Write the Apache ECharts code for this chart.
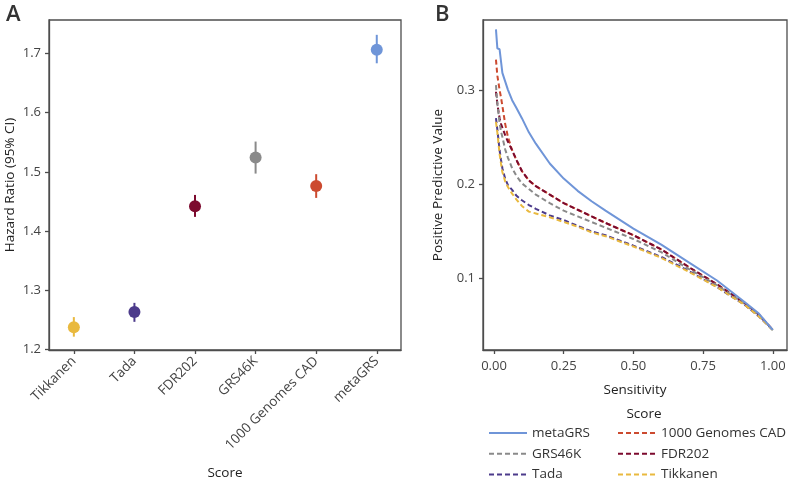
<!DOCTYPE html>
<html><head><meta charset="utf-8">
<script src="https://cdn.jsdelivr.net/npm/echarts@6/dist/echarts.min.js"></script>
<style>html,body{margin:0;padding:0;background:#fff}#c{width:790px;height:482px}</style>
</head><body><div id="c"></div>
<script>
// Panel A data
const scores = ['Tikkanen','Tada','FDR202','GRS46K','1000 Genomes CAD','metaGRS'];
const hrEstimate = [1.238, 1.2635, 1.442, 1.524, 1.476, 1.706];
const hrLower    = [1.222, 1.247, 1.424, 1.497, 1.456, 1.683];
const hrUpper    = [1.255, 1.279, 1.461, 1.551, 1.496, 1.731];
const hrTicks = [1.2, 1.3, 1.4, 1.5, 1.6, 1.7];

// Panel B data
const sensitivity = [0.007,0.012,0.02,0.025,0.03,0.04,0.05,0.065,0.08,0.1,0.125,0.15,0.2,0.25,0.3,0.35,0.4,0.5,0.6,0.7,0.8,0.9,0.95,1.0];
const ppvMetaGRS = [0.364,0.344,0.343,0.341,0.318,0.309,0.300,0.289,0.281,0.270,0.255,0.243,0.222,0.206,0.193,0.182,0.172,0.153,0.136,0.117,0.098,0.075,0.063,0.0456];
const ppv1000G   = [0.332,0.315,0.300,0.292,0.283,0.264,0.250,0.236,0.226,0.214,0.204,0.198,0.189,0.180,0.173,0.166,0.159,0.146,0.131,0.112,0.094,0.074,0.062,0.0456];
const ppvFDR202  = [0.298,0.285,0.270,0.264,0.260,0.252,0.245,0.236,0.226,0.214,0.204,0.198,0.189,0.180,0.173,0.166,0.159,0.146,0.131,0.112,0.094,0.074,0.062,0.0456];
const ppvGRS46K  = [0.305,0.285,0.265,0.256,0.250,0.237,0.228,0.217,0.209,0.201,0.195,0.189,0.180,0.172,0.166,0.160,0.154,0.142,0.128,0.110,0.093,0.073,0.061,0.0456];
const ppvTada    = [0.270,0.258,0.236,0.226,0.217,0.206,0.199,0.194,0.188,0.183,0.178,0.174,0.167,0.162,0.156,0.150,0.146,0.135,0.123,0.108,0.091,0.072,0.060,0.0456];
const ppvTikkanen= [0.266,0.255,0.232,0.222,0.213,0.203,0.197,0.190,0.184,0.177,0.171,0.169,0.165,0.160,0.155,0.149,0.145,0.134,0.122,0.107,0.091,0.072,0.060,0.0456];
const sensTicks = [0, 0.25, 0.5, 0.75, 1];
const ppvTicks = [0.1, 0.2, 0.3];

const colorMap = {
  'Tikkanen':'#e9b93f','Tada':'#4c3b8b','FDR202':'#7c0a2e',
  'GRS46K':'#8a8a8a','1000 Genomes CAD':'#cc4a2f','metaGRS':'#6f95d8'
};
const FONT = '"Open Sans", "DejaVu Sans", sans-serif';
const AX = '#4d4d4d';

function curve(name, vals, dashed){
  return {
    name, type:'line', xAxisIndex:1, yAxisIndex:1, symbol:'none', showSymbol:false,
    data: sensitivity.map((s,i)=>[s, vals[i]]),
    lineStyle:{color:colorMap[name], width:2, type: dashed ? [5,3] : 'solid'},
    itemStyle:{color:colorMap[name]}, animation:false
  };
}

const chart = echarts.init(document.getElementById('c'), null, {renderer:'canvas'});
function labelStyle(){ return {color:'#444', fontSize:13, fontFamily:FONT}; }
function nameStyle(){ return {color:'#222', fontSize:13.5, fontFamily:FONT, fontWeight:500}; }
function tick(vals){ return {show:true, length:4, inside:false, customValues:vals, lineStyle:{color:AX, width:1.3}}; }
function axLine(){ return {show:true, onZero:false, lineStyle:{color:AX, width:1.3}}; }
function legend(names, left){
  return {data:names, left:left, top:426, padding:0, orient:'vertical',
    itemWidth:38, itemHeight:14, itemGap:6.8, itemStyle:{opacity:0},
    textStyle:{fontSize:13.5, color:'#333', fontFamily:FONT}};
}

chart.setOption({
  animation:false,
  backgroundColor:'#fff',
  title:[
    {text:'A', left:1, top:-1, textStyle:{fontSize:22, fontWeight:600, color:'#333', fontFamily:FONT}},
    {text:'B', left:430, top:-1, textStyle:{fontSize:22, fontWeight:600, color:'#333', fontFamily:FONT}},
    {text:'Score', left:639, top:402, textAlign:'center', textStyle:{fontSize:13.5, fontWeight:500, color:'#222', fontFamily:FONT}}
  ],
  grid:[
    {left:49, top:20, right:389, bottom:132, show:true, borderColor:AX, borderWidth:1.3, backgroundColor:'transparent',
     containLabel:false, outerBoundsMode:'none'},
    {left:483, top:20, right:3, bottom:132, show:true, borderColor:AX, borderWidth:1.3, backgroundColor:'transparent',
     containLabel:false, outerBoundsMode:'none'}
  ],
  xAxis:[
    {gridIndex:0, type:'value', min:-0.41, max:5.4,
     name:'Score', nameLocation:'middle', nameGap:116, nameTextStyle:nameStyle(),
     axisLine:axLine(), splitLine:{show:false},
     axisTick:tick([0,1,2,3,4,5]),
     axisLabel:Object.assign({rotate:45, margin:9, customValues:[0,1,2,3,4,5],
       formatter:v=>scores[Math.round(v)]}, labelStyle(), {fontSize:13.5})},
    {gridIndex:1, type:'value', min:-0.0395, max:1.051,
     name:'Sensitivity', nameLocation:'middle', nameGap:33, nameTextStyle:nameStyle(),
     axisLine:axLine(), splitLine:{show:false},
     axisTick:tick(sensTicks),
     axisLabel:Object.assign({margin:10, customValues:sensTicks, formatter:v=>v.toFixed(2)}, labelStyle())}
  ],
  yAxis:[
    {gridIndex:0, type:'value', min:1.1995, max:1.756,
     name:'Hazard Ratio (95% CI)', nameLocation:'middle', nameGap:32, nameTextStyle:nameStyle(),
     axisLine:axLine(), splitLine:{show:false},
     axisTick:tick(hrTicks),
     axisLabel:Object.assign({margin:8, customValues:hrTicks, formatter:v=>v.toFixed(1)}, labelStyle())},
    {gridIndex:1, type:'value', min:0.0244, max:0.374,
     name:'Positive Predictive Value', nameLocation:'middle', nameGap:38, nameTextStyle:nameStyle(),
     axisLine:axLine(), splitLine:{show:false},
     axisTick:tick(ppvTicks),
     axisLabel:Object.assign({margin:8, customValues:ppvTicks, formatter:v=>v.toFixed(1)}, labelStyle())}
  ],
  legend:[
    legend(['metaGRS','GRS46K','Tada'], 488),
    legend(['1000 Genomes CAD','FDR202','Tikkanen'], 617)
  ],
  series:[
    {name:'ci', type:'custom', xAxisIndex:0, yAxisIndex:0,
     data: scores.map((s,i)=>[i, hrLower[i], hrUpper[i]]),
     renderItem:(params, api)=>{
       const x = api.value(0);
       const lo = api.coord([x, api.value(1)]);
       const hi = api.coord([x, api.value(2)]);
       return {type:'line', shape:{x1:lo[0], y1:lo[1], x2:hi[0], y2:hi[1]},
               style:{stroke:colorMap[scores[params.dataIndex]], lineWidth:2}};
     }},
    {name:'hr', type:'scatter', xAxisIndex:0, yAxisIndex:0, symbolSize:12,
     data: scores.map((s,i)=>({value:[i, hrEstimate[i]], itemStyle:{color:colorMap[s], opacity:1}}))},
    curve('1000 Genomes CAD', ppv1000G, true),
    curve('FDR202', ppvFDR202, true),
    curve('GRS46K', ppvGRS46K, true),
    curve('Tada', ppvTada, true),
    curve('Tikkanen', ppvTikkanen, true),
    curve('metaGRS', ppvMetaGRS, false)
  ]
});
</script></body></html>
